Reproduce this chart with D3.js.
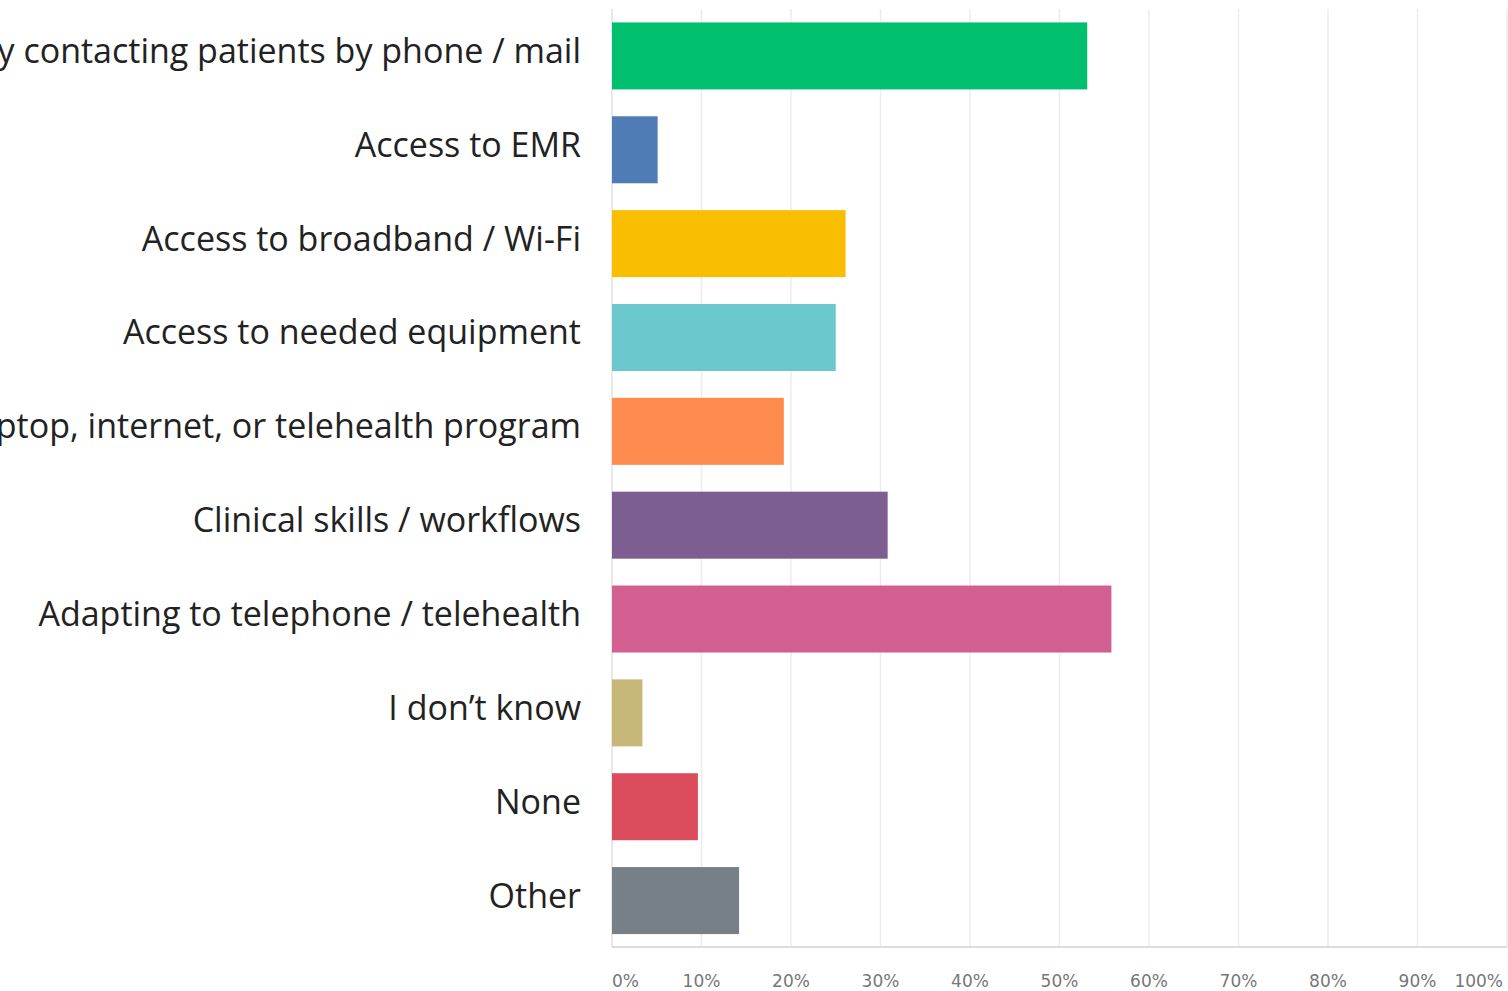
<!DOCTYPE html>
<html>
<head>
<meta charset="utf-8">
<script src="https://cdn.jsdelivr.net/npm/d3@7"></script>
<style>
  body { margin: 0; background: #fff; }
  svg { display: block; }
</style>
</head>
<body>
<svg id="chart"></svg>
<script>
const categories = [
    "Difficulty contacting patients by phone / mail",
    "Access to EMR",
    "Access to broadband / Wi-Fi",
    "Access to needed equipment",
    "Familiarity with laptop, internet, or telehealth program",
    "Clinical skills / workflows",
    "Adapting to telephone / telehealth",
    "I don\u2019t know",
    "None",
    "Other"
];
const values = [53.1, 5.1, 26.1, 25.0, 19.2, 30.8, 55.8, 3.4, 9.6, 14.2];
const colors = ["#00bf6f", "#507cb6", "#f9be00", "#6bc8cd", "#ff8b4f",
                "#7d5e90", "#d25f90", "#c7b879", "#db4d5c", "#768086"];
const tickValues = [0, 10, 20, 30, 40, 50, 60, 70, 80, 90, 100];

const W = 1508, H = 991;
const svg = d3.select("#chart").attr("width", W).attr("height", H);

const x = d3.scaleLinear().domain([0, 100]).range([612, 1507]);
const y = d3.scaleBand()
    .domain(categories)
    .range([9, 947.5])
    .paddingInner(0.286)
    .paddingOuter(0.143);

// gridlines
svg.append("g")
    .selectAll("line")
    .data(tickValues.slice(1))
    .enter().append("line")
    .attr("x1", d => x(d)).attr("x2", d => x(d))
    .attr("y1", 9).attr("y2", 947)
    .attr("stroke", "#ececec")
    .attr("stroke-width", 1.5);

// axis frame
svg.append("line")
    .attr("x1", x(0)).attr("x2", x(0)).attr("y1", 9).attr("y2", 947)
    .attr("stroke", "#e0e0e0").attr("stroke-width", 1.5);
svg.append("line")
    .attr("x1", x(0)).attr("x2", x(100)).attr("y1", 947).attr("y2", 947)
    .attr("stroke", "#dcdcdc").attr("stroke-width", 2);

// bars
svg.append("g")
    .selectAll("rect")
    .data(values)
    .enter().append("rect")
    .attr("x", x(0))
    .attr("y", (d, i) => y(categories[i]))
    .attr("width", d => x(d) - x(0))
    .attr("height", y.bandwidth())
    .attr("fill", (d, i) => colors[i]);

// category labels (long ones run off the left edge, as in the original)
svg.append("g")
    .selectAll("text")
    .data(categories)
    .enter().append("text")
    .attr("x", 581)
    .attr("y", d => y(d) + y.bandwidth() / 2 + 7)
    .attr("text-anchor", "end")
    .style("font-family", "'Open Sans', Lato, sans-serif")
    .style("font-size", "34px")
    .style("fill", "#222")
    .text(d => d);

// tick labels
svg.append("g")
    .selectAll("text")
    .data(tickValues)
    .enter().append("text")
    .attr("x", d => d === 0 ? x(d) : d === 100 ? x(d) - 4 : x(d))
    .attr("y", 987)
    .attr("text-anchor", d => d === 0 ? "start" : d === 100 ? "end" : "middle")
    .style("font-family", "'DejaVu Sans', sans-serif")
    .style("font-size", "17px")
    .style("fill", "#777")
    .text(d => d + "%");
</script>
</body>
</html>
